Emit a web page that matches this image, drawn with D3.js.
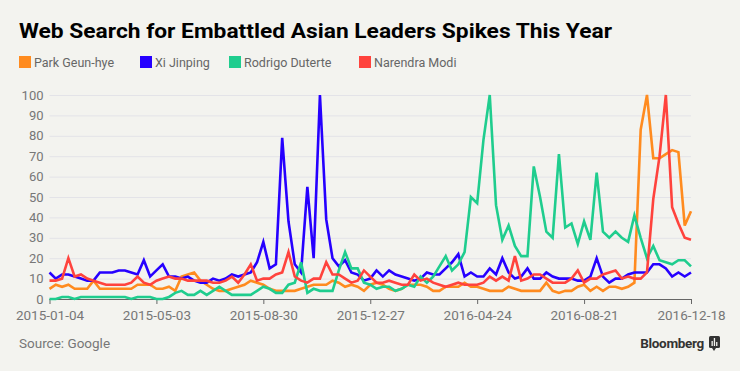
<!DOCTYPE html>
<html>
<head>
<meta charset="utf-8">
<script src="https://cdn.jsdelivr.net/npm/d3@7"></script>
<style>
  body { margin: 0; background: #f3f3ef; }
  svg { display: block; font-family: Roboto, "Liberation Sans", sans-serif; }
</style>
</head>
<body>
<script>
// weekly google search interest, 2015-01-04 .. 2016-12-18
var startDate = "2015-01-04";
var tickLabels = ["2015-01-04", "2015-05-03", "2015-08-30", "2015-12-27", "2016-04-24", "2016-08-21", "2016-12-18"];
var yTicks = [0, 10, 20, 30, 40, 50, 60, 70, 80, 90, 100];

var names = ["Park Geun-hye", "Xi Jinping", "Rodrigo Duterte", "Narendra Modi"];
var colors = ["#ff8b1f", "#2600ff", "#1fcd8e", "#ff433d"];

var park = [5,7,6,7,5,5,5,9,5,5,5,5,5,5,7,7,7,5,5,6,4,11,12,13,9,7,5,
    4,4,5,6,7,9,8,7,5,4,4,4,4,5,6,7,7,7,9,8,6,7,6,4,7,8,7,
    5,4,5,7,7,7,6,4,4,6,6,6,8,6,6,5,4,4,4,6,5,4,4,4,4,8,
    4,3,4,4,6,7,4,6,4,6,6,5,6,8,83,100,69,69,71,73,72,36,43];
var xi = [13,10,12,12,11,10,9,9,13,13,13,14,14,13,12,19,11,14,17,11,11,10,11,9,8,8,10,
    9,10,12,11,12,13,18,28,15,17,79,38,17,13,55,20,100,39,20,16,19,13,12,9,10,14,11,
    14,12,11,10,9,10,13,12,12,15,18,22,11,13,11,11,15,12,20,13,10,11,15,10,10,13,
    11,10,10,10,9,9,11,20,11,8,10,10,12,13,13,13,17,17,15,11,13,11,13];
var duterte = [0,0,1,1,0,1,1,1,1,1,1,1,1,0,1,1,1,0,0,1,3,4,2,2,4,2,4,
    6,4,2,2,2,2,4,6,5,3,3,7,8,18,3,5,4,4,4,14,23,15,15,8,7,5,6,
    6,4,5,7,6,11,8,11,16,21,14,17,23,50,47,78,100,46,29,36,26,21,21,65,50,33,
    30,71,35,37,27,38,29,62,33,30,33,30,28,41,30,20,26,19,18,17,19,19,16];
var modi = [9,9,10,20,11,12,10,9,8,7,7,7,7,8,11,8,7,9,10,11,10,10,9,9,9,9,8,
    8,9,11,8,12,17,9,10,10,12,13,23,11,9,8,10,10,18,12,12,10,8,9,14,11,8,8,
    9,8,7,7,12,9,10,8,7,6,7,8,7,7,7,8,11,9,11,9,21,9,10,12,12,10,
    8,8,8,10,14,8,10,10,12,13,14,10,11,10,10,13,49,70,100,45,37,30,29];

var series = [park, xi, duterte, modi];

var W = 740, H = 371;
var plotLeft = 49.5, plotRight = 691, plotTop = 95, plotBottom = 299;

var parse = d3.timeParse("%Y-%m-%d");
var t0 = parse(startDate);
var dates = park.map(function (d, i) { return d3.timeDay.offset(t0, i * 7); });

var x = d3.scaleTime()
    .domain([t0, parse(tickLabels[tickLabels.length - 1])])
    .range([plotLeft, plotRight]);
var y = d3.scaleLinear()
    .domain([0, 100])
    .range([plotBottom, plotTop]);

var svg = d3.select("body").append("svg")
    .attr("width", W)
    .attr("height", H);

svg.append("rect").attr("width", W).attr("height", H).attr("fill", "#f3f3ef");

// title
svg.append("text")
    .attr("x", 19)
    .attr("y", 38)
    .attr("font-size", 20)
    .attr("font-weight", "bold")
    .attr("fill", "#000")
    .attr("textLength", 593)
    .attr("lengthAdjust", "spacingAndGlyphs")
    .text("Web Search for Embattled Asian Leaders Spikes This Year");

// legend
var legendX = [19, 140, 229, 359];
var legend = svg.selectAll("g.legend")
    .data(names)
    .enter()
    .append("g")
    .attr("class", "legend")
    .attr("transform", function (d, i) { return "translate(" + legendX[i] + ",56)"; });
legend.append("rect")
    .attr("width", 12)
    .attr("height", 12)
    .attr("fill", function (d, i) { return colors[i]; });
legend.append("text")
    .attr("x", 15)
    .attr("y", 10.5)
    .attr("font-size", 12.5)
    .attr("fill", "#666")
    .text(function (d) { return d; });

// grid + y axis
var yAxis = d3.axisLeft(y)
    .tickValues(yTicks)
    .tickSize(-(plotRight - plotLeft))
    .tickPadding(6)
    .tickFormat(d3.format("d"));

svg.append("g")
    .attr("class", "y axis")
    .attr("transform", "translate(" + plotLeft + ",0)")
    .call(yAxis)
    .call(function (g) {
        g.select(".domain").remove();
        g.selectAll(".tick line").attr("stroke", "#e3e3e8").attr("stroke-width", 1);
        g.selectAll(".tick text")
            .attr("font-size", 13)
            .attr("fill", "#777")
            .attr("font-family", "Roboto, sans-serif");
        g.selectAll(".tick").filter(function (d) { return d === 0; }).select("line").remove();
    });

// x axis
var xAxis = d3.axisBottom(x)
    .tickValues(tickLabels.map(parse))
    .tickSize(5)
    .tickPadding(6)
    .tickFormat(d3.timeFormat("%Y-%m-%d"));

svg.append("g")
    .attr("class", "x axis")
    .attr("transform", "translate(0," + plotBottom + ")")
    .call(xAxis)
    .call(function (g) {
        g.select(".domain").attr("stroke", "#666").attr("d", "M" + plotLeft + ",0.5H" + plotRight);
        g.selectAll(".tick line").attr("stroke", "#666");
        g.selectAll(".tick text")
            .attr("font-size", 13.5)
            .attr("fill", "#777")
            .attr("font-family", "Roboto, sans-serif");
    });

// lines
var line = d3.line()
    .x(function (d, i) { return x(dates[i]); })
    .y(function (d) { return y(d); });

svg.selectAll("path.series")
    .data(series)
    .enter()
    .append("path")
    .attr("class", "series")
    .attr("fill", "none")
    .attr("stroke", function (d, i) { return colors[i]; })
    .attr("stroke-width", 2.6)
    .attr("stroke-linejoin", "miter")
    .attr("d", line);

// footer
svg.append("text")
    .attr("x", 19)
    .attr("y", 348)
    .attr("font-size", 13.5)
    .attr("fill", "#777")
    .text("Source: Google");

svg.append("text")
    .attr("x", 704)
    .attr("y", 348)
    .attr("text-anchor", "end")
    .attr("font-size", 13.5)
    .attr("font-weight", "bold")
    .attr("fill", "#333")
    .attr("letter-spacing", -0.3)
    .text("Bloomberg");

var logo = svg.append("g").attr("transform", "translate(709,336)");
logo.append("rect").attr("width", 11).attr("height", 12).attr("rx", 1.5).attr("fill", "#333");
logo.append("path").attr("d", "M3,12 L5,15 L7,12 Z").attr("fill", "#333");
logo.selectAll("rect.bar")
    .data([5, 8, 4])
    .enter()
    .append("rect")
    .attr("class", "bar")
    .attr("x", function (d, i) { return 2.5 + i * 2.3; })
    .attr("y", function (d) { return 10 - d; })
    .attr("width", 1.3)
    .attr("height", function (d) { return d; })
    .attr("fill", "#f3f3ef");
</script>
</body>
</html>
